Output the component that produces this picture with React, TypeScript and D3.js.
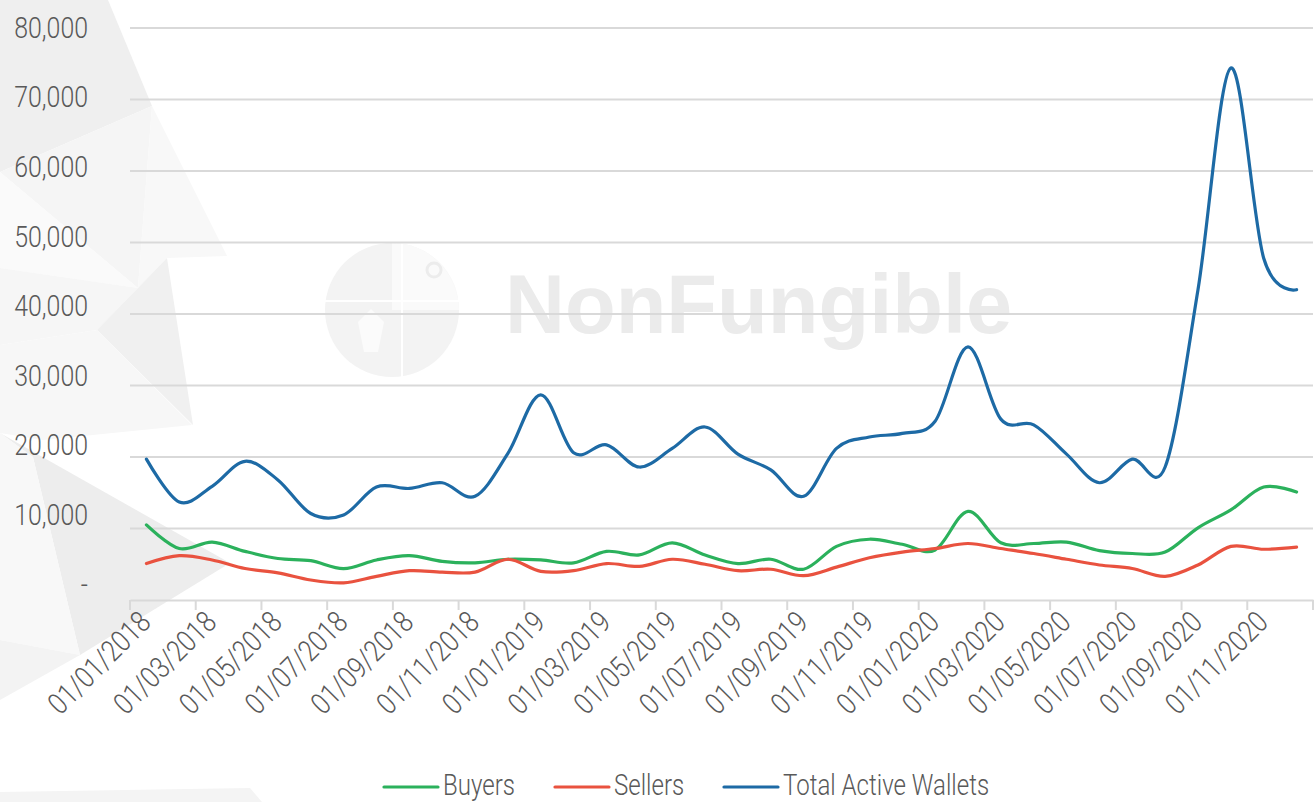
import React, { useRef, useEffect } from "react";
import * as d3 from "d3";

// monthly data, Jan 2018 .. Dec 2020
const months = [
  "01/01/2018", "01/02/2018", "01/03/2018", "01/04/2018", "01/05/2018", "01/06/2018",
  "01/07/2018", "01/08/2018", "01/09/2018", "01/10/2018", "01/11/2018", "01/12/2018",
  "01/01/2019", "01/02/2019", "01/03/2019", "01/04/2019", "01/05/2019", "01/06/2019",
  "01/07/2019", "01/08/2019", "01/09/2019", "01/10/2019", "01/11/2019", "01/12/2019",
  "01/01/2020", "01/02/2020", "01/03/2020", "01/04/2020", "01/05/2020", "01/06/2020",
  "01/07/2020", "01/08/2020", "01/09/2020", "01/10/2020", "01/11/2020", "01/12/2020",
];

const buyers = [
  10500, 7200, 8100, 6800, 5800, 5500, 4400, 5600, 6200, 5400, 5200, 5700,
  5600, 5200, 6800, 6300, 8000, 6300, 5100, 5700, 4300, 7500, 8500, 7800,
  7000, 12400, 8000, 7900, 8100, 6900, 6500, 6700, 10100, 12600, 15800, 15100,
];

const sellers = [
  5100, 6200, 5600, 4400, 3800, 2800, 2400, 3300, 4100, 3900, 3900, 5700,
  4000, 4100, 5100, 4700, 5700, 5000, 4100, 4300, 3400, 4600, 5900, 6700,
  7200, 7900, 7200, 6500, 5700, 4900, 4400, 3300, 4900, 7500, 7100, 7400,
];

const totalWallets = [
  19700, 13700, 15900, 19400, 16800, 12100, 11900, 15800, 15600, 16400, 14500, 20500,
  28700, 20600, 21700, 18600, 21200, 24200, 20400, 18200, 14500, 21200, 22800, 23300,
  25000, 35400, 25300, 24500, 20400, 16400, 19700, 18600, 43400, 74400, 47800, 43400,
];

const yTicks = [0, 10000, 20000, 30000, 40000, 50000, 60000, 70000, 80000];

const seriesNames = ["Buyers", "Sellers", "Total Active Wallets"];
const seriesColors = ["#2bb15c", "#e9523f", "#1d6aa5"];

// faint low-poly decoration on the left
const bgPolys = [
  { pts: [[0, 0], [108, 0], [152, 106], [0, 172]], fill: "#efefef" },
  { pts: [[0, 172], [152, 106], [138, 288]], fill: "#f5f5f5" },
  { pts: [[152, 106], [227, 256], [167, 258], [138, 288]], fill: "#f8f8f8" },
  { pts: [[0, 172], [138, 288], [0, 268]], fill: "#fafafa" },
  { pts: [[0, 268], [138, 288], [97, 330], [0, 345]], fill: "#f6f6f6" },
  { pts: [[138, 288], [167, 258], [193, 425], [97, 330]], fill: "#f0f0f0" },
  { pts: [[0, 345], [97, 330], [192, 425], [43, 440], [0, 433]], fill: "#f7f7f7" },
  { pts: [[0, 433], [230, 563], [80, 655], [33, 457]], fill: "#ededed" },
  { pts: [[0, 433], [33, 457], [80, 655], [0, 640]], fill: "#f8f8f8" },
  { pts: [[0, 640], [80, 655], [0, 700]], fill: "#f3f3f3" },
  { pts: [[0, 792], [250, 788], [262, 802], [0, 802]], fill: "#f4f4f4" },
];

const FONT = "Roboto, 'Liberation Sans', sans-serif";
const SQUEEZE = 0.83; // the original uses a condensed face

const App = () => {
  const chartRef = useRef<SVGSVGElement>(null);
  const width = 1315;
  const height = 802;

  useEffect(() => {
    if (!chartRef.current) return;
    const margin = { top: 28, right: 2, bottom: 202, left: 130 };

    const svg = d3.select(chartRef.current);
    svg.selectAll("*").remove();

    svg.append("rect").attr("width", width).attr("height", height).attr("fill", "#ffffff");

    svg.selectAll(".bg-poly")
      .data(bgPolys)
      .enter().append("polygon")
      .attr("points", (d) => d.pts.map((p) => p.join(",")).join(" "))
      .attr("fill", (d) => d.fill);

    // watermark
    const wm = svg.append("g").attr("class", "watermark");
    wm.append("circle").attr("cx", 392).attr("cy", 310).attr("r", 67).attr("fill", "#f3f3f3");
    wm.append("path").attr("d", "M392,310 L459,310 A67,67 0 0,0 392,243 Z").attr("fill", "#fafafa");
    wm.append("line").attr("x1", 325).attr("x2", 459).attr("y1", 301).attr("y2", 301)
      .attr("stroke", "#fff").attr("stroke-width", 2);
    wm.append("line").attr("x1", 402).attr("x2", 402).attr("y1", 243).attr("y2", 377)
      .attr("stroke", "#fff").attr("stroke-width", 2);
    wm.append("circle").attr("cx", 434).attr("cy", 270).attr("r", 7)
      .attr("fill", "none").attr("stroke", "#ececec").attr("stroke-width", 3);
    wm.append("path").attr("d", "M364,352 L358,322 L371,309 L384,322 L378,352 Z").attr("fill", "#fbfbfb");
    wm.append("text")
      .attr("x", 505).attr("y", 333)
      .attr("font-family", "'Liberation Sans', Arial, sans-serif")
      .attr("font-weight", "bold")
      .attr("font-size", 83)
      .attr("fill", "#ebebeb")
      .text("NonFungible");

    const xScale = d3.scaleBand()
      .domain(months)
      .range([margin.left, width - margin.right])
      .paddingInner(0)
      .paddingOuter(0);

    const yScale = d3.scaleLinear()
      .domain([0, 80000])
      .range([height - margin.bottom, margin.top]);

    // y labels sit on a slightly tighter spacing than the grid in the original
    const labelScale = d3.scaleLinear()
      .domain([0, 80000])
      .range([584, 26.7]);

    // gridlines
    svg.append("g")
      .selectAll("line")
      .data(yTicks.filter((t) => t > 0))
      .enter().append("line")
      .attr("x1", margin.left)
      .attr("x2", width - margin.right)
      .attr("y1", (d) => yScale(d))
      .attr("y2", (d) => yScale(d))
      .attr("stroke", "#d9d9d9")
      .attr("stroke-width", 2);

    // y labels
    svg.append("g")
      .selectAll("text")
      .data(yTicks)
      .enter().append("text")
      .attr("transform", (d) => `translate(88,${labelScale(d)}) scale(${SQUEEZE},1)`)
      .attr("dy", "0.36em")
      .attr("text-anchor", "end")
      .attr("font-family", FONT)
      .attr("font-weight", 300)
      .attr("font-size", 30)
      .attr("fill", "#595959")
      .text((d) => (d === 0 ? "-" : d3.format(",")(d)));

    // x axis
    const xAxis = svg.append("g")
      .attr("transform", `translate(0,${yScale(0)})`)
      .call(
        d3.axisBottom(xScale)
          .tickValues(months.filter((_, i) => i % 2 === 0))
          .tickSize(0)
          .tickFormat(() => "")
      );
    xAxis.select(".domain").attr("stroke", "#d9d9d9").attr("stroke-width", 2);

    const boundaries = d3.range(0, months.length + 1, 2).map((i) =>
      i < months.length ? xScale(months[i]) as number : xScale.range()[1]
    );
    svg.append("g")
      .selectAll("line")
      .data(boundaries)
      .enter().append("line")
      .attr("x1", (d) => d)
      .attr("x2", (d) => d)
      .attr("y1", yScale(0))
      .attr("y2", yScale(0) + 10)
      .attr("stroke", "#d9d9d9")
      .attr("stroke-width", 2);

    svg.append("g")
      .selectAll("text")
      .data(months.filter((_, i) => i % 2 === 0))
      .enter().append("text")
      .attr("transform", (d) => {
        const cx = (xScale(d) as number) + xScale.bandwidth() / 2 + 6;
        return `translate(${cx},${yScale(0) + 24}) rotate(-45) scale(${SQUEEZE},1)`;
      })
      .attr("text-anchor", "end")
      .attr("font-family", FONT)
      .attr("font-weight", 300)
      .attr("font-size", 30)
      .attr("fill", "#595959")
      .text((d) => d);

    // lines
    const line = d3.line<number>()
      .x((_, i) => (xScale(months[i]) as number) + xScale.bandwidth() / 2)
      .y((d) => yScale(d))
      .curve(d3.curveCardinal.tension(0));

    const allSeries = [buyers, sellers, totalWallets];
    svg.append("g")
      .selectAll("path")
      .data(allSeries)
      .enter().append("path")
      .attr("d", (d) => line(d))
      .attr("fill", "none")
      .attr("stroke", (_, i) => seriesColors[i])
      .attr("stroke-width", 3.2)
      .attr("stroke-linejoin", "round")
      .attr("stroke-linecap", "round");

    // legend
    const legendX = [384, 555, 724];
    const legend = svg.append("g").attr("class", "legend");
    legend.selectAll("line")
      .data(seriesNames)
      .enter().append("line")
      .attr("x1", (_, i) => legendX[i])
      .attr("x2", (_, i) => legendX[i] + 54)
      .attr("y1", 787)
      .attr("y2", 787)
      .attr("stroke", (_, i) => seriesColors[i])
      .attr("stroke-width", 3.2)
      .attr("stroke-linecap", "round");
    legend.selectAll("text")
      .data(seriesNames)
      .enter().append("text")
      .attr("transform", (_, i) => `translate(${legendX[i] + 59},795) scale(${SQUEEZE},1)`)
      .attr("font-family", FONT)
      .attr("font-weight", 300)
      .attr("font-size", 29)
      .attr("fill", "#595959")
      .text((d) => d);
  }, []);

  return (
    <div style={{ position: "absolute", left: 0, top: 0 }}>
      <svg ref={chartRef} width={width} height={height} style={{ display: "block" }}></svg>
    </div>
  );
};

export default App;
